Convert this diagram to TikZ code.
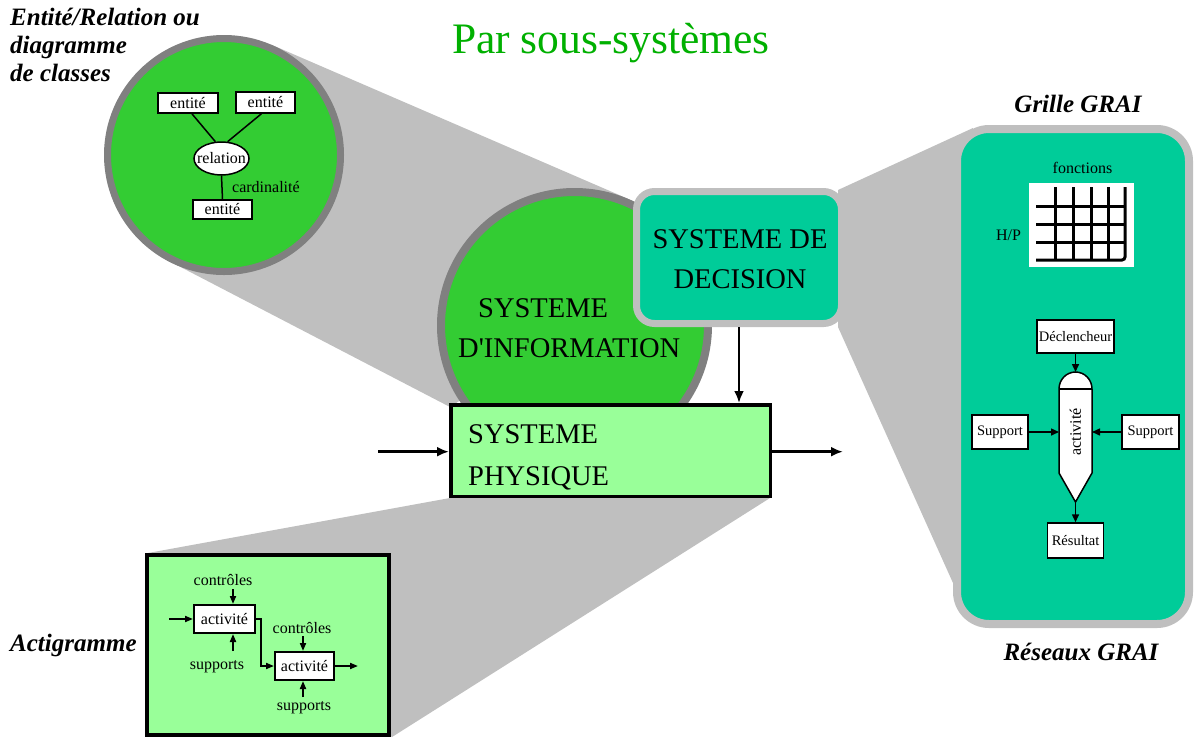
\documentclass[tikz,border=0pt]{standalone}
\usepackage{fontspec}
\setmainfont{Liberation Serif}[Ligatures=TeXOff]
\usetikzlibrary{arrows.meta,shapes.geometric}
\definecolor{ltgray}{RGB}{191,191,191}
\definecolor{dkgray}{RGB}{128,128,128}
\definecolor{cgreen}{RGB}{51,204,51}
\definecolor{pgreen}{RGB}{153,255,153}
\definecolor{tealc}{RGB}{0,204,153}
\definecolor{ttl}{RGB}{0,176,0}
\tikzset{
  bigtxt/.style={font=\fontsize{28.5}{34}\selectfont, inner sep=0},
  lbl/.style={font=\fontsize{25}{28}\selectfont\bfseries\itshape, inner sep=0},
  smalltxt/.style={font=\fontsize{16}{19}\selectfont, inner sep=0},
  tinytxt/.style={font=\fontsize{14.5}{17}\selectfont, inner sep=0},
  wbox/.style={draw, fill=white, line width=1.5, inner sep=0},
  bigarr/.style={line width=2.5, -{Latex[length=12pt,width=10pt]}},
  sarr/.style={line width=1.5, -{Triangle[length=8pt,width=7pt]}},
  aarr/.style={line width=1.8, -{Triangle[length=8pt,width=6pt]}},
}
\begin{document}
\begin{tikzpicture}[x=1pt,y=-1pt]
\useasboundingbox (0,0) rectangle (1194,737);
% cones
\fill[ltgray] (224,155) -- (271.4,44.7) -- (640,204) -- (574,326) -- (450,407) -- (169,261) -- cycle;
\fill[ltgray] (838,190) -- (973,128) -- (953,583) -- (838,327) -- cycle;
\fill[ltgray] (148,553) -- (450,498) -- (770,498) -- (392,737) -- cycle;

% title
\node[font=\fontsize{43.5}{50}\selectfont, text=ttl, inner sep=0, anchor=base] (title) at (611,53) {Par sous-systèmes};

% ER circle
\node[circle, draw=dkgray, line width=7, fill=cgreen, minimum size=233, inner sep=0] (er) at (224,155) {};
\node[lbl, anchor=base west] (erl1) at (10,25) {Entité/Relation ou};
\node[lbl, anchor=base west] (erl2) at (10,53.3) {diagramme};
\node[lbl, anchor=base west] (erl3) at (10,81.7) {de classes};
\node[wbox, smalltxt, minimum width=60, minimum height=20] (e1) at (188,103) {entité};
\node[wbox, smalltxt, minimum width=59, minimum height=21] (e2) at (265.5,102.5) {entité};
\node[ellipse, draw, fill=white, line width=1.5, minimum width=55, minimum height=33, inner sep=0] (rel) at (221.5,158.5) {};
\node[smalltxt] (reltxt) at (rel) {relation};
\node[wbox, smalltxt, minimum width=59, minimum height=19] (e3) at (222.5,209.5) {entité};
\draw[line width=1.5] (e1.290) -- (rel.110);
\draw[line width=1.5] (e2.250) -- (rel.70);
\draw[line width=1.5] (rel.south) -- (e3.north);
\node[smalltxt, anchor=west] (card) at (232,187) {cardinalité};

% SI circle
\node[circle, draw=dkgray, line width=8, fill=cgreen, minimum size=267, inner sep=0] (si) at (574.5,325.5) {};
\node[bigtxt, anchor=base west] (si1) at (478,317) {SYSTEME};
\node[bigtxt, anchor=base west] (si2) at (458,357) {D'INFORMATION};

% decision box
\node[draw=ltgray, line width=7, fill=tealc, rounded corners=18, minimum width=205, minimum height=132, inner sep=0] (sd) at (739,257.5) {};
\node[bigtxt, anchor=base] (sd1) at (740,248) {SYSTEME DE};
\node[bigtxt, anchor=base] (sd2) at (740,288) {DECISION};

% physical system
\node[draw, line width=3.5, fill=pgreen, minimum width=319.5, minimum height=91.5, inner sep=0] (sp) at (610.5,450.5) {};
\node[bigtxt, anchor=base west] (sp1) at (468,443) {SYSTEME};
\node[bigtxt, anchor=base west] (sp2) at (468,485) {PHYSIQUE};

\coordinate (spin) at (378,451.7);
\coordinate (spout) at (843,451.7);
\draw[bigarr] (spin) -- (spin -| sp.west);
\draw[bigarr] (spout -| sp.east) -- (spout);
\draw[bigarr] (sd.south) -- (sd.south |- sp.north);

% GRAI box
\node[draw=ltgray, line width=8, fill=tealc, rounded corners=32, minimum width=232, minimum height=495, inner sep=0] (grai) at (1073,376.5) {};
\node[lbl, anchor=base] (graitop) at (1078,112) {Grille GRAI};
\node[lbl, anchor=base] (graibot) at (1081,660) {Réseaux GRAI};
\node[smalltxt, anchor=base] (fonc) at (1082.5,173) {fonctions};
\node[fill=white, minimum width=105, minimum height=84, inner sep=0] (gridbg) at (1081.5,225) {};
\node[smalltxt] (hp) at (1008.5,235) {H/P};
\foreach \yy in {206,224,242} \draw[line width=3] (1036,\yy) -- (1125,\yy);
\foreach \xx in {1055,1073,1091,1108} \draw[line width=3] (\xx,187) -- (\xx,260);
\draw[line width=3, rounded corners=3] (1125,187) -- (1125,260) -- (1036,260);

\node[wbox, tinytxt, minimum width=77, minimum height=33] (decl) at (1075.5,336.5) {Déclencheur};
\node[wbox, tinytxt, minimum width=56, minimum height=34] (supl) at (1000,432) {Support};
\node[wbox, tinytxt, minimum width=57, minimum height=34] (supr) at (1150.5,432) {Support};
\node[wbox, tinytxt, minimum width=56, minimum height=35] (res) at (1075.5,540.5) {Résultat};
\draw[line width=1.5, fill=white] (1059,389) -- (1059,473) -- (1075.5,502) -- (1092,473) -- (1092,389)
  .. controls (1092,379.6) and (1084.6,372) .. (1075.5,372)
  .. controls (1066.4,372) and (1059,379.6) .. (1059,389) -- cycle;
\draw[line width=1.5] (1059,389) -- (1092,389);
\node[smalltxt, rotate=90] (act) at (1075.5,432) {activité};
\coordinate (acttop) at (1075.5,372);
\coordinate (actl) at (1059,432);
\coordinate (actr) at (1092,432);
\coordinate (actbot) at (1075.5,502);
\draw[sarr] (decl.south) -- (acttop);
\draw[sarr] (supl.east) -- (actl);
\draw[sarr] (supr.west) -- (actr);
\draw[sarr] (actbot) -- (res.north);

% Actigramme
\node[draw, line width=4, fill=pgreen, minimum width=242, minimum height=180, inner sep=0] (acti) at (268,645) {};
\node[lbl, anchor=base west] (actil) at (10,651) {Actigramme};
\node[smalltxt, anchor=base] (ctrl1) at (223,585) {contrôles};
\node[wbox, line width=2, smalltxt, minimum width=61, minimum height=28] (a1) at (224.5,619) {activité};
\node[smalltxt, anchor=base] (sup1) at (217,669) {supports};
\node[smalltxt, anchor=base] (ctrl2) at (302,633) {contrôles};
\node[wbox, line width=2, smalltxt, minimum width=59, minimum height=28] (a2) at (304.5,666) {activité};
\node[smalltxt, anchor=base] (sup2) at (304,710) {supports};
\coordinate (a1in) at (169,619);
\coordinate (c1top) at (233,589);
\coordinate (s1bot) at (233,651);
\coordinate (c2top) at (303,636);
\coordinate (s2bot) at (303,697);
\coordinate (a2out) at (358,666);
\draw[aarr] (a1in) -- (a1.west);
\draw[aarr] (c1top) -- (c1top |- a1.north);
\draw[aarr] (s1bot) -- (s1bot |- a1.south);
\draw[aarr] (c2top) -- (c2top |- a2.north);
\draw[aarr] (s2bot) -- (s2bot |- a2.south);
\draw[aarr] (a1.east) -- ++(5,0) |- (a2.west);
\draw[aarr] (a2.east) -- (a2out);
\end{tikzpicture}
\end{document}
